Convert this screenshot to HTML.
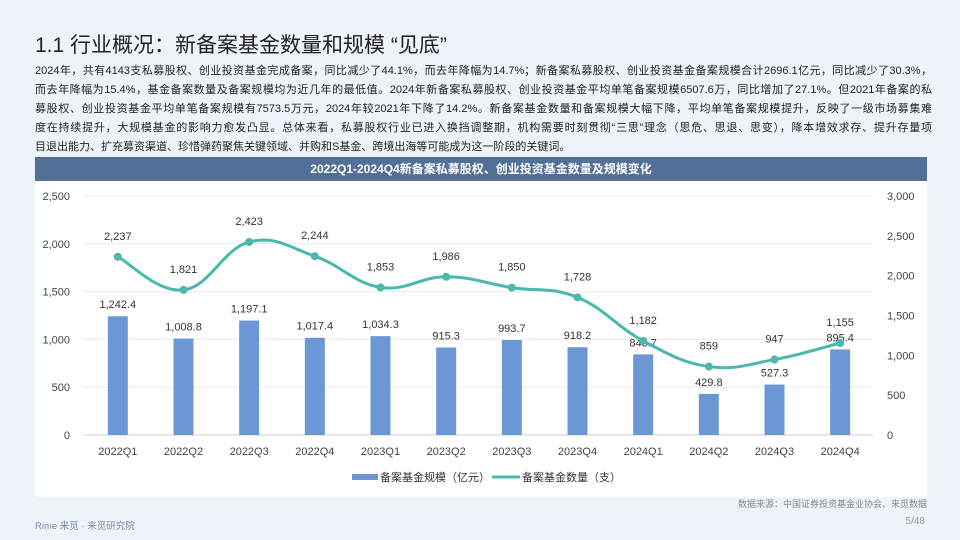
<!DOCTYPE html>
<html><head><meta charset="utf-8">
<style>
body{margin:0;width:960px;height:540px;background:#eef2f9;font-family:"Liberation Sans","Noto Sans CJK SC",sans-serif;position:relative;overflow:hidden}
.t{position:absolute;white-space:nowrap}
#title{left:35px;top:29px;font-size:21px;color:#222}
#para{left:35px;top:62px;width:897px;font-size:11px;line-height:19px;color:#222}
#para div{white-space:nowrap;text-align:justify;text-align-last:justify}
#para div.last{text-align-last:left}
#panel{position:absolute;left:35px;top:157px;width:892px;height:340px;background:#fff}
#hdr{position:absolute;left:35px;top:157px;width:892px;height:24px;background:#516f97;color:#fff;font-size:12px;font-weight:bold;text-align:center;line-height:24px}
</style></head><body>
<div class="t" id="title">1.1 行业概况：新备案基金数量和规模 “见底”</div>
<div class="t" id="para">
<div>2024年，共有4143支私募股权、创业投资基金完成备案，同比减少了44.1%，而去年降幅为14.7%；新备案私募股权、创业投资基金备案规模合计2696.1亿元，同比减少了30.3%，</div>
<div>而去年降幅为15.4%，基金备案数量及备案规模均为近几年的最低值。2024年新备案私募股权、创业投资基金平均单笔备案规模6507.6万，同比增加了27.1%。但2021年备案的私</div>
<div>募股权、创业投资基金平均单笔备案规模有7573.5万元，2024年较2021年下降了14.2%。新备案基金数量和备案规模大幅下降，平均单笔备案规模提升，反映了一级市场募集难</div>
<div>度在持续提升，大规模基金的影响力愈发凸显。总体来看，私募股权行业已进入换挡调整期，机构需要时刻贯彻“三思”理念（思危、思退、思变），降本增效求存、提升存量项</div>
<div class="last">目退出能力、扩充募资渠道、珍惜弹药聚焦关键领域、并购和S基金、跨境出海等可能成为这一阶段的关键词。</div>
</div>
<div id="panel"></div>
<div id="hdr">2022Q1-2024Q4新备案私募股权、创业投资基金数量及规模变化</div>
<svg id="chart" width="960" height="540" style="position:absolute;left:0;top:0"></svg>
<div class="t" style="right:33px;top:497px;font-size:9px;color:#888">数据来源：中国证券投资基金业协会、来觅数据</div>
<div class="t" style="left:35px;top:518px;font-size:9.5px;color:#7a8aa5">Rime 来觅 · 来觅研究院</div>
<div class="t" style="right:35px;top:516px;font-size:10px;color:#999">5/48</div>
<script>
const categories=["2022Q1","2022Q2","2022Q3","2022Q4","2023Q1","2023Q2","2023Q3","2023Q4","2024Q1","2024Q2","2024Q3","2024Q4"];
const scaleValues=[1242.4,1008.8,1197.1,1017.4,1034.3,915.3,993.7,918.2,843.7,429.8,527.3,895.4];
const countValues=[2237,1821,2423,2244,1853,1986,1850,1728,1182,859,947,1155];
const leftTicks=[0,500,1000,1500,2000,2500];
const rightTicks=[0,500,1000,1500,2000,2500,3000];
const NS="http://www.w3.org/2000/svg";
const svg=document.getElementById('chart');
const x0=85,x1=873,yb=435,yt=196;
const xc=i=>x0+(x1-x0)/categories.length*(i+0.5);
const yL=v=>yb-(yb-yt)*v/2500;
const yR=v=>yb-(yb-yt)*v/3000;
function mk(t,a){const e=document.createElementNS(NS,t);for(const k in a)e.setAttribute(k,a[k]);svg.appendChild(e);return e;}
const fmt=(v,d)=>v.toLocaleString('en-US',{minimumFractionDigits:d,maximumFractionDigits:d});
leftTicks.forEach(v=>{
 const l=mk('line',{x1:x0-2,x2:x1,y1:yL(v),y2:yL(v),stroke:v?'#ececec':'#d0d0d0','stroke-width':1});
 
 
 const t=mk('text',{x:70,y:yL(v)+4,'text-anchor':'end','font-size':11,fill:'#444'});t.textContent=fmt(v,0);
 
 
});
rightTicks.forEach(v=>{
 const t=mk('text',{x:887,y:yR(v)+4,'font-size':11,fill:'#444'});t.textContent=fmt(v,0);
 
 
});
categories.forEach((c,i)=>{
 const t=mk('text',{x:xc(i),y:455,'text-anchor':'middle','font-size':11,fill:'#444'});t.textContent=c;
 
 
 const b=mk('rect',{x:xc(i)-10,y:yL(scaleValues[i]),width:20,height:yb-yL(scaleValues[i]),fill:'#6b98d4'});
 
 
 const bl=mk('text',{x:xc(i),y:yL(scaleValues[i])-8,'text-anchor':'middle','font-size':11,fill:'#333'});bl.textContent=fmt(scaleValues[i],1);
 
 
});
const pts=countValues.map((v,i)=>[xc(i),yR(v)]);
let d='M'+pts[0][0]+','+pts[0][1];
for(let i=0;i<pts.length-1;i++){
 const p0=pts[i-1]||pts[i],p1=pts[i],p2=pts[i+1],p3=pts[i+2]||p2,k=0.2;
 d+=` C${p1[0]+(p2[0]-p0[0])*k},${p1[1]+(p2[1]-p0[1])*k} ${p2[0]-(p3[0]-p1[0])*k},${p2[1]-(p3[1]-p1[1])*k} ${p2[0]},${p2[1]}`;
}
const ln=mk('path',{d:d,fill:'none',stroke:'#4bb8ad','stroke-width':3});


pts.forEach((p,i)=>{
 const c=mk('circle',{cx:p[0],cy:p[1],r:4,fill:'#4bb8ad'});
 
 
 const t=mk('text',{x:p[0],y:p[1]-17,'text-anchor':'middle','font-size':11,fill:'#333'});t.textContent=fmt(countValues[i],0);
 
 
});
const lg1=mk('rect',{x:352,y:474,width:26,height:6,fill:'#6b98d4'});


const lt1=mk('text',{x:380,y:481,'font-size':11,fill:'#333'});lt1.textContent='备案基金规模（亿元）';


const lg2=mk('line',{x1:492,x2:520,y1:477,y2:477,stroke:'#4bb8ad','stroke-width':3});


const lt2=mk('text',{x:522,y:481,'font-size':11,fill:'#333'});lt2.textContent='备案基金数量（支）';


</script>
</body></html>
